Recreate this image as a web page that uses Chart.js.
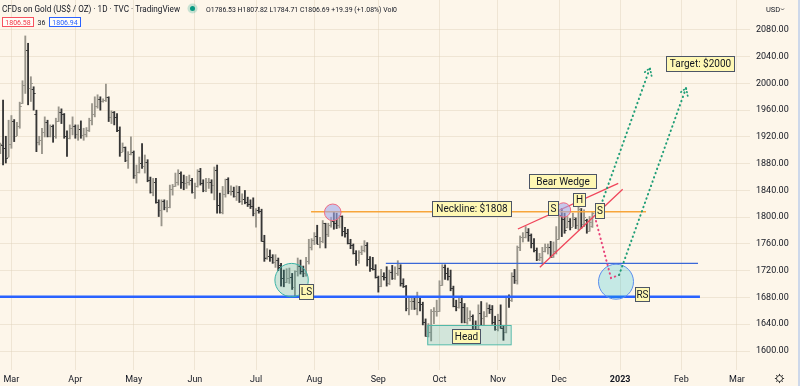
<!DOCTYPE html>
<html>
<head>
<meta charset="utf-8">
<script src="https://cdn.jsdelivr.net/npm/chart.js@4.4.1/dist/chart.umd.min.js"></script>
<style>
	html, body { margin: 0; padding: 0; background: #fdf6ea; }
	#wrap { position: relative; width: 800px; height: 386px; }
</style>
</head>
<body>
<div id="wrap"><canvas id="chart" width="800" height="386"></canvas></div>
<script>
// daily bars, first one is 23 Feb 2022 (index -4, 1 Mar = 0, weekdays only)
const firstIndex = -4;

const opens = [
	1898, 1908, 1903, 1890, 1910, 1944, 1922, 1936, 1970, 1998, 2050, 1993, 1992, 1955, 1912, 1916, 1928, 1943, 1921, 1936,
	1921, 1944, 1958, 1954, 1922, 1919, 1933, 1937, 1925, 1932, 1923, 1925, 1931, 1945, 1954, 1966, 1977, 1973, 1975, 1979,
	1950, 1958, 1950, 1931, 1898, 1905, 1886, 1894, 1897, 1863, 1868, 1881, 1876, 1883, 1855, 1838, 1853, 1822, 1811, 1824,
	1815, 1816, 1842, 1846, 1853, 1866, 1853, 1851, 1853, 1855, 1837, 1846, 1869, 1851, 1841, 1852, 1853, 1848, 1871, 1819,
	1808, 1834, 1857, 1839, 1839, 1832, 1838, 1824, 1827, 1822, 1820, 1817, 1807, 1811, 1809, 1765, 1741, 1742, 1740, 1733,
	1736, 1728, 1709, 1703, 1709, 1711, 1696, 1719, 1727, 1719, 1717, 1735, 1756, 1766, 1772, 1760, 1765, 1791, 1775, 1789,
	1795, 1792, 1789, 1802, 1779, 1776, 1761, 1758, 1747, 1736, 1748, 1751, 1758, 1737, 1724, 1723, 1711, 1697, 1712, 1710,
	1702, 1718, 1709, 1716, 1724, 1702, 1697, 1665, 1675, 1675, 1664, 1673, 1671, 1643, 1622, 1629, 1660, 1660, 1660, 1699,
	1725, 1716, 1712, 1694, 1668, 1666, 1673, 1666, 1644, 1650, 1652, 1629, 1627, 1657, 1649, 1652, 1665, 1663, 1644, 1633,
	1647, 1635, 1629, 1681, 1676, 1712, 1706, 1755, 1771, 1771, 1778, 1774, 1761, 1751, 1738, 1740, 1750, 1755, 1755, 1741,
	1750, 1768, 1803, 1797, 1786, 1795, 1786, 1797, 1788, 1810, 1790, 1796, 1780, 1786.53
];
const highs = [
	1911, 1975, 1921, 1945, 1952, 1946, 1942, 1972, 2004, 2071, 2060, 2010, 1995, 1960, 1921, 1933, 1950, 1945, 1938, 1938,
	1948, 1965, 1962, 1955, 1929, 1938, 1950, 1938, 1938, 1944, 1933, 1934, 1948, 1970, 1980, 1983, 1980, 1977, 1999, 1980,
	1959, 1958, 1955, 1935, 1911, 1905, 1898, 1920, 1899, 1878, 1890, 1910, 1893, 1886, 1860, 1858, 1858, 1826, 1826, 1826,
	1825, 1848, 1849, 1866, 1871, 1868, 1863, 1861, 1863, 1858, 1851, 1871, 1873, 1856, 1858, 1858, 1856, 1875, 1878, 1836,
	1846, 1857, 1859, 1847, 1845, 1847, 1846, 1835, 1840, 1830, 1826, 1829, 1813, 1815, 1812, 1773, 1753, 1751, 1744, 1744,
	1739, 1731, 1721, 1723, 1724, 1716, 1720, 1739, 1736, 1727, 1740, 1767, 1768, 1777, 1788, 1770, 1795, 1791, 1791, 1800,
	1808, 1806, 1803, 1802, 1785, 1782, 1767, 1760, 1750, 1750, 1757, 1765, 1762, 1741, 1740, 1729, 1712, 1722, 1717, 1726,
	1721, 1728, 1726, 1735, 1729, 1708, 1698, 1681, 1681, 1680, 1688, 1680, 1673, 1648, 1641, 1662, 1665, 1676, 1705, 1729,
	1729, 1724, 1721, 1697, 1676, 1679, 1682, 1671, 1665, 1660, 1654, 1645, 1669, 1674, 1659, 1672, 1669, 1668, 1652, 1655,
	1669, 1637, 1682, 1684, 1717, 1722, 1757, 1772, 1777, 1786, 1783, 1775, 1768, 1754, 1746, 1755, 1760, 1760, 1764, 1763,
	1786, 1805, 1813, 1806, 1801, 1798, 1806, 1799, 1818, 1813, 1811, 1797, 1801, 1807.82
];
const lows = [
	1895, 1878, 1881, 1890, 1903, 1913, 1922, 1933, 1970, 1985, 1968, 1973, 1960, 1898, 1908, 1895, 1920, 1920, 1920, 1912,
	1918, 1943, 1940, 1918, 1891, 1917, 1923, 1918, 1915, 1918, 1915, 1920, 1928, 1938, 1950, 1963, 1960, 1972, 1973, 1943,
	1940, 1938, 1928, 1891, 1898, 1883, 1873, 1893, 1858, 1851, 1866, 1873, 1866, 1853, 1836, 1832, 1821, 1801, 1787, 1811,
	1808, 1814, 1833, 1846, 1848, 1843, 1841, 1843, 1848, 1836, 1828, 1845, 1848, 1838, 1838, 1843, 1836, 1826, 1806, 1806,
	1805, 1830, 1835, 1833, 1830, 1825, 1822, 1819, 1820, 1816, 1813, 1802, 1785, 1806, 1764, 1734, 1737, 1734, 1731, 1725,
	1720, 1697, 1696, 1702, 1701, 1692, 1681, 1712, 1715, 1711, 1712, 1730, 1751, 1759, 1760, 1754, 1762, 1754, 1771, 1785,
	1782, 1783, 1784, 1772, 1770, 1760, 1753, 1745, 1728, 1731, 1744, 1748, 1727, 1719, 1721, 1709, 1688, 1696, 1706, 1697,
	1699, 1707, 1707, 1713, 1697, 1695, 1660, 1654, 1662, 1662, 1654, 1660, 1639, 1622, 1621, 1615, 1641, 1652, 1659, 1698,
	1707, 1706, 1690, 1666, 1660, 1664, 1642, 1642, 1640, 1645, 1626, 1621, 1618, 1639, 1638, 1651, 1656, 1640, 1631, 1630,
	1634, 1616, 1627, 1665, 1674, 1701, 1700, 1750, 1763, 1769, 1764, 1754, 1748, 1735, 1735, 1730, 1748, 1745, 1740, 1740,
	1745, 1767, 1771, 1776, 1784, 1781, 1786, 1783, 1781, 1783, 1786, 1776, 1779, 1784.71
];
const closes = [
	1909, 1903, 1889, 1910, 1944, 1922, 1936, 1966, 1998, 2050, 1993, 2000, 1986, 1912, 1916, 1928, 1943, 1921, 1936, 1921,
	1944, 1958, 1954, 1922, 1919, 1933, 1937, 1925, 1932, 1923, 1925, 1931, 1945, 1954, 1966, 1977, 1973, 1975, 1979, 1950,
	1958, 1950, 1931, 1898, 1905, 1886, 1894, 1897, 1863, 1868, 1881, 1876, 1883, 1855, 1838, 1853, 1822, 1811, 1824, 1815,
	1816, 1842, 1846, 1853, 1866, 1853, 1851, 1853, 1855, 1837, 1846, 1869, 1851, 1841, 1852, 1853, 1848, 1871, 1819, 1808,
	1834, 1857, 1839, 1839, 1832, 1838, 1824, 1827, 1822, 1820, 1817, 1807, 1811, 1809, 1765, 1739, 1742, 1740, 1733, 1736,
	1725, 1709, 1703, 1709, 1711, 1696, 1719, 1727, 1719, 1717, 1735, 1756, 1766, 1772, 1760, 1765, 1791, 1775, 1789, 1795,
	1792, 1789, 1802, 1779, 1776, 1761, 1758, 1747, 1736, 1748, 1751, 1758, 1737, 1724, 1723, 1711, 1697, 1712, 1710, 1702,
	1718, 1709, 1716, 1724, 1702, 1697, 1665, 1675, 1675, 1664, 1673, 1671, 1643, 1622, 1629, 1660, 1660, 1660, 1699, 1725,
	1716, 1712, 1694, 1668, 1666, 1673, 1666, 1644, 1650, 1652, 1629, 1627, 1657, 1649, 1652, 1665, 1663, 1644, 1633, 1647,
	1635, 1629, 1681, 1676, 1712, 1706, 1755, 1771, 1771, 1778, 1774, 1761, 1751, 1738, 1740, 1750, 1755, 1755, 1741, 1750,
	1768, 1803, 1797, 1781, 1795, 1786, 1800, 1788, 1812, 1790, 1800, 1780, 1793, 1806.69
];

const monthLabels = ["Mar", "Apr", "May", "Jun", "Jul", "Aug", "Sep", "Oct", "Nov", "Dec", "2023", "Feb", "Mar"];
const monthStarts = [0, 23, 44, 66, 88, 109, 132, 154, 175, 197, 219, 241, 261];
const priceTicks = [1600, 1640, 1680, 1720, 1760, 1800, 1840, 1880, 1920, 1960, 2000, 2040, 2080];

// drawing set-up
const xMin = -4.1, xMax = 265.7;
const yMin = 1571.6, yMax = 2124.7;
const bg = "#fdf6ea";
const gridColor = "rgba(222,208,186,0.45)";
const upColor = "#99958b";
const downColor = "#363636";

const barColor = k => closes[k] >= opens[k] ? upColor : downColor;

Chart.defaults.font.family = "Roboto, 'Noto Sans', sans-serif";

const background = {
	id: "background",
	beforeDraw(chart) {
		const ctx = chart.ctx;
		ctx.save();
		ctx.fillStyle = bg;
		ctx.fillRect(0, 0, chart.width, chart.height);
		ctx.restore();
	}
};

const ohlcTicks = {
	id: "ohlcTicks",
	afterDatasetsDraw(chart) {
		const { ctx, scales: { x, y } } = chart;
		ctx.save();
		ctx.lineWidth = 1;
		for (let k = 0; k < opens.length; k++) {
			const px = x.getPixelForValue(firstIndex + k);
			const yo = Math.round(y.getPixelForValue(opens[k])) + 0.5;
			const yc = Math.round(y.getPixelForValue(closes[k])) + 0.5;
			ctx.strokeStyle = barColor(k);
			ctx.beginPath();
			ctx.moveTo(px - 2, yo);
			ctx.lineTo(px, yo);
			ctx.moveTo(px, yc);
			ctx.lineTo(px + 2, yc);
			ctx.stroke();
		}
		ctx.restore();
	}
};

// annotations, anchored at (bar index, price)
const circles = [
	{ i: 100.8, p: 1706, r: 16.7, fill: "rgba(38,166,154,0.22)", stroke: "#3bb3a6" },
	{ i: 115.6, p: 1807.3, r: 8.3, fill: "rgba(160,168,235,0.6)", stroke: "#f06a82" },
	{ i: 198.6, p: 1810.8, r: 7.2, fill: "rgba(160,168,235,0.6)", stroke: "#f06a82" },
	{ i: 217.5, p: 1703.6, r: 17.5, fill: "rgba(0,188,212,0.22)", stroke: "#5b8def" }
];
const hLines = [
	{ i0: -4.1, i1: 247.7, p: 1681, color: "#2962ff", width: 2.6 },
	{ i0: 134.7, i1: 247, p: 1731, color: "#3a68d8", width: 1.4 },
	{ i0: 107.8, i1: 228.3, p: 1808, color: "#f7a53a", width: 1.5 }
];
const wedge = [
	{ i0: 182.2, p0: 1782.4, i1: 218.3, p1: 1850.7 },
	{ i0: 190.1, p0: 1725.1, i1: 219.9, p1: 1841.7 }
];
const pinkPath = [[210.3, 1794.3], [215.7, 1709.1], [218.6, 1713.6]];
const greenPaths = [
	[[212.1, 1818.2], [229.7, 2023]],
	[[218.6, 1713.6], [242.7, 1993.1]]
];
const headZone = { i0: 149.6, p0: 1638.9, i1: 179.6, p1: 1610 };
const labels = [
	{ text: "Neckline: $1808", i: 151.3, p: 1824.2, w: 79, h: 15 },
	{ text: "Bear Wedge", i: 186.2, p: 1864.6, w: 67, h: 14 },
	{ text: "S", i: 193, p: 1824.2, w: 10, h: 14 },
	{ text: "H", i: 202, p: 1836.2, w: 12, h: 13 },
	{ text: "S", i: 209.9, p: 1821.2, w: 9, h: 15 },
	{ text: "LS", i: 103.5, p: 1700.1, w: 14, h: 15 },
	{ text: "Head", i: 158.5, p: 1632.9, w: 28, h: 14 },
	{ text: "RS", i: 224.3, p: 1695.7, w: 14, h: 14 },
	{ text: "Target: $2000", i: 235.5, p: 2041, w: 68, h: 15 }
];

const annotations = {
	id: "annotations",
	afterDatasetsDraw(chart) {
		const { ctx, scales: { x, y } } = chart;
		const P = (i, p) => [x.getPixelForValue(i), y.getPixelForValue(p)];
		ctx.save();

		// head zone
		const [hx0, hy0] = P(headZone.i0, headZone.p0);
		const [hx1, hy1] = P(headZone.i1, headZone.p1);
		ctx.fillStyle = "rgba(38,166,154,0.2)";
		ctx.fillRect(hx0, hy0, hx1 - hx0, hy1 - hy0);
		ctx.strokeStyle = "#4fb8a8";
		ctx.lineWidth = 1;
		ctx.strokeRect(hx0 + 0.5, hy0 + 0.5, hx1 - hx0, hy1 - hy0);

		hLines.forEach(l => {
			const [a, yy] = P(l.i0, l.p);
			const [b] = P(l.i1, l.p);
			ctx.strokeStyle = l.color;
			ctx.lineWidth = l.width;
			ctx.beginPath();
			ctx.moveTo(a, yy);
			ctx.lineTo(b, yy);
			ctx.stroke();
		});

		ctx.strokeStyle = "#f0455a";
		ctx.lineWidth = 1.3;
		wedge.forEach(w => {
			const [a, b] = P(w.i0, w.p0);
			const [c, d] = P(w.i1, w.p1);
			ctx.beginPath();
			ctx.moveTo(a, b);
			ctx.lineTo(c, d);
			ctx.stroke();
		});

		circles.forEach(c => {
			const [cx, cy] = P(c.i, c.p);
			ctx.beginPath();
			ctx.arc(cx, cy, c.r, 0, Math.PI * 2);
			ctx.fillStyle = c.fill;
			ctx.fill();
			ctx.strokeStyle = c.stroke;
			ctx.lineWidth = 1;
			ctx.stroke();
		});

		// dotted projections
		ctx.lineCap = "round";
		ctx.lineWidth = 2;
		ctx.setLineDash([0.5, 4]);
		ctx.strokeStyle = "#e8437a";
		ctx.beginPath();
		pinkPath.forEach((pt, n) => {
			const [a, b] = P(pt[0], pt[1]);
			n ? ctx.lineTo(a, b) : ctx.moveTo(a, b);
		});
		ctx.stroke();

		ctx.strokeStyle = "#1f9e77";
		greenPaths.forEach(path => {
			const [a, b] = P(path[0][0], path[0][1]);
			const [c, d] = P(path[1][0], path[1][1]);
			ctx.setLineDash([0.5, 4]);
			ctx.lineWidth = 2;
			ctx.beginPath();
			ctx.moveTo(a, b);
			ctx.lineTo(c, d);
			ctx.stroke();
			// arrow head, dotted like the line
			const ang = Math.atan2(d - b, c - a);
			ctx.setLineDash([0.5, 3]);
			ctx.lineWidth = 1.8;
			ctx.beginPath();
			ctx.moveTo(c - 8 * Math.cos(ang - 0.55), d - 8 * Math.sin(ang - 0.55));
			ctx.lineTo(c, d);
			ctx.lineTo(c - 8 * Math.cos(ang + 0.55), d - 8 * Math.sin(ang + 0.55));
			ctx.stroke();
		});
		ctx.setLineDash([]);

		// text boxes
		ctx.font = "10px Roboto";
		ctx.textBaseline = "middle";
		ctx.textAlign = "center";
		labels.forEach(l => {
			const [a, b] = P(l.i, l.p);
			const bx = Math.round(a) + 0.5, by = Math.round(b) + 0.5;
			ctx.fillStyle = "#fff8b4";
			ctx.fillRect(bx, by, l.w, l.h);
			ctx.strokeStyle = "#4c5566";
			ctx.lineWidth = 1;
			ctx.strokeRect(bx, by, l.w, l.h);
			ctx.fillStyle = "#131722";
			ctx.fillText(l.text, bx + l.w / 2, by + l.h / 2 + 0.5);
		});

		ctx.restore();
	}
};

// draw text squeezed to a given width
function fitText(ctx, text, x, y, maxW) {
	const w = ctx.measureText(text).width;
	ctx.save();
	ctx.translate(x, y);
	if (w > maxW) ctx.scale(maxW / w, 1);
	ctx.fillText(text, 0, 0);
	ctx.restore();
}

const header = {
	id: "header",
	afterDraw(chart) {
		const ctx = chart.ctx;
		ctx.save();
		ctx.textBaseline = "alphabetic";
		ctx.textAlign = "left";
		ctx.fillStyle = "#131722";
		ctx.font = "9.5px Roboto";
		fitText(ctx, "CFDs on Gold (US$ / OZ) · 1D · TVC · TradingView", 2, 12, 178);

		ctx.fillStyle = "rgba(8,153,129,0.22)";
		ctx.beginPath(); ctx.arc(192.5, 8.5, 5, 0, Math.PI * 2); ctx.fill();
		ctx.fillStyle = "#089981";
		ctx.beginPath(); ctx.arc(192.5, 8.5, 2.5, 0, Math.PI * 2); ctx.fill();

		ctx.fillStyle = "#131722";
		ctx.font = "7.5px Roboto";
		fitText(ctx, "O1786.53 H1807.82 L1784.71 C1806.69 +19.39 (+1.08%) Vol0", 206, 11.5, 191);

		ctx.lineWidth = 1;
		ctx.fillStyle = "#fffdf8";
		ctx.fillRect(2, 17, 32, 10);
		ctx.strokeStyle = "#f7525f";
		ctx.strokeRect(2.5, 17.5, 31, 9);
		ctx.fillStyle = "#fffdf8";
		ctx.fillRect(49, 17, 32, 10);
		ctx.strokeStyle = "#2962ff";
		ctx.strokeRect(49.5, 17.5, 31, 9);
		ctx.font = "7px Roboto";
		ctx.textAlign = "center";
		ctx.fillStyle = "#f23645";
		ctx.fillText("1806.58", 18, 25);
		ctx.fillStyle = "#2962ff";
		ctx.fillText("1806.94", 65, 25);
		ctx.fillStyle = "#131722";
		ctx.fillText("36", 41.5, 25);

		// price scale header
		ctx.font = "7.5px Roboto";
		ctx.textAlign = "left";
		ctx.fillText("USD", 766, 12);
		ctx.strokeStyle = "#555";
		ctx.beginPath();
		ctx.moveTo(781, 8.5); ctx.lineTo(782.5, 10); ctx.lineTo(784, 8.5);
		ctx.stroke();

		// settings gear
		ctx.strokeStyle = "#333";
		ctx.lineWidth = 1;
		ctx.beginPath(); ctx.arc(779.5, 378.5, 3, 0, Math.PI * 2); ctx.stroke();
		for (let a = 0; a < 8; a++) {
			const t = a * Math.PI / 4;
			ctx.beginPath();
			ctx.moveTo(779.5 + 3 * Math.cos(t), 378.5 + 3 * Math.sin(t));
			ctx.lineTo(779.5 + 4.6 * Math.cos(t), 378.5 + 4.6 * Math.sin(t));
			ctx.stroke();
		}

		ctx.fillStyle = "#cdd8ea";
		ctx.fillRect(798, 0, 2, chart.height);
		ctx.restore();
	}
};

const bars = opens.map((o, k) => ({ x: firstIndex + k, y: [lows[k], highs[k]] }));

new Chart(document.getElementById("chart"), {
	type: "bar",
	data: {
		datasets: [{
			data: bars,
			backgroundColor: opens.map((o, k) => barColor(k)),
			barThickness: 1.2,
			borderWidth: 0
		}]
	},
	options: {
		responsive: false,
		animation: false,
		devicePixelRatio: 1,
		layout: { padding: 0 },
		plugins: { legend: { display: false }, tooltip: { enabled: false } },
		scales: {
			x: {
				type: "linear",
				min: xMin,
				max: xMax,
				offset: false,
				grid: { color: gridColor, drawTicks: false, offset: false },
				border: { display: false },
				ticks: {
					autoSkip: false,
					maxRotation: 0,
					color: "#131722",
					padding: 4,
					font: c => ({ size: 9, weight: c.tick && c.tick.value === 219 ? "bold" : "normal" }),
					callback: v => monthLabels[monthStarts.indexOf(v)] ?? ""
				},
				afterBuildTicks: s => { s.ticks = monthStarts.map(v => ({ value: v })); },
				afterFit: s => { s.height = 16; s.paddingLeft = 0; s.paddingRight = 0; }
			},
			y: {
				position: "right",
				min: yMin,
				max: yMax,
				grid: { color: gridColor, drawTicks: false },
				border: { display: false },
				ticks: {
					includeBounds: false,
					color: "#131722",
					padding: 6,
					font: { size: 9 },
					callback: v => Number(v).toFixed(2)
				},
				afterBuildTicks: s => { s.ticks = priceTicks.map(v => ({ value: v })); },
				afterFit: s => { s.width = 50; s.paddingTop = 0; s.paddingBottom = 0; }
			}
		}
	},
	plugins: [background, ohlcTicks, annotations, header]
});
</script>
</body>
</html>
